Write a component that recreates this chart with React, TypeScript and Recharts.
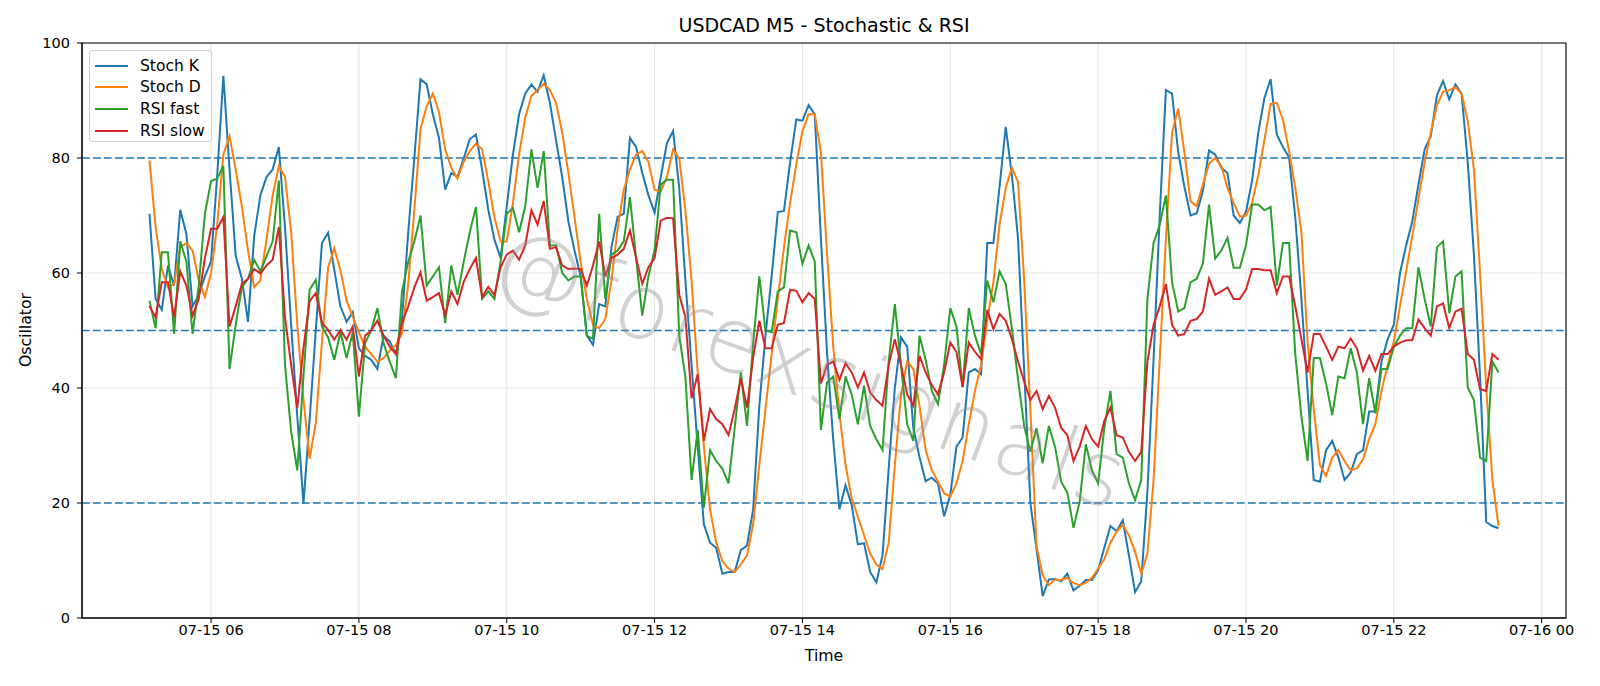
import React from 'react';
import { LineChart, Line, XAxis, YAxis, CartesianGrid, ReferenceLine, ReferenceArea } from 'recharts';

// bars are M5, first bar at 07-15 05:10 (minutes since 07-15 00:00)
const START_MIN = 310;
const STEP_MIN = 5;

const stochK = [
  70.3, 55.5, 53.6, 61.3, 57.8, 71, 66.8, 54.2, 56.2, 59.4,
  62, 77, 94.3, 78, 63, 59, 51.5, 66.4, 73.5, 76.7,
  78, 81.9, 68, 51, 35, 19.9, 34.5, 50, 65.2, 67,
  60.6, 54.2, 51.5, 53.2, 46.9, 45.6, 44.9, 43.3, 49.1, 48.1,
  45.9, 52, 67, 80, 93.7, 92.8, 87.6, 83.5, 74.5, 77.4,
  76.7, 79.9, 83.3, 84.1, 78, 71, 65.8, 62.6, 71.6, 80.6,
  87.6, 91.2, 92.8, 91.5, 94.4, 89.6, 83.1, 76.7, 69, 63.9,
  59.4, 49.1, 47.5, 54.6, 54.2, 64.5, 69.8, 70.3, 83.5, 81.9,
  77.4, 73.5, 70.5, 76.7, 82.6, 84.7, 74.8, 58.7, 44, 29.8,
  16.3, 13.1, 12.2, 7.7, 8, 8, 11.8, 12.6, 18.9, 36.9,
  49.1, 59.4, 70.6, 70.8, 79.3, 86.7, 86.5, 89.2, 87.6, 66,
  46, 31, 18.9, 23.1, 19.6, 12.8, 13, 8, 6.2, 10.9,
  26, 40, 48.8, 47.2, 33, 28, 23.8, 24.4, 23.4, 17.7,
  21.4, 29.8, 31.4, 42.7, 43.3, 42.4, 65.2, 65.2, 75, 85.4,
  77, 66, 43, 20, 12, 3.8, 6.7, 6.8, 6.4, 7.7,
  4.8, 5.6, 6.6, 6.6, 8.3, 12.2, 16, 15.1, 17, 10.9,
  4.5, 6.4, 22, 45, 70, 91.8, 91.2, 81, 75, 70,
  70.4, 74.2, 81.3, 80.6, 78.3, 77.4, 70, 68.7, 70.6, 76.1,
  84.4, 90.5, 93.7, 84.1, 81.9, 80.1, 69.7, 55.5, 39.5, 24,
  23.7, 29.2, 30.8, 27.9, 24, 25.3, 28.5, 29.2, 35.9, 35.9,
  44.6, 48.5, 51, 60, 64.8, 69, 75.4, 81.5, 83.8, 90.9,
  93.4, 90.2, 92.8, 91.2, 79.3, 63.2, 42, 16.7, 16, 15.6,
];

const stochD = [
  79.6, 68, 60.7, 57.5, 58.1, 64.5, 65.2, 63.9, 58.7, 55.8,
  60, 68.4, 80.6, 83.8, 78, 71.6, 63.9, 57.5, 58.7, 65.8,
  73.5, 78.6, 76.7, 67.1, 51, 38, 27.7, 33.9, 48, 61,
  64.3, 60.5, 55.2, 52.4, 49.7, 47.2, 45.9, 44.6, 45.2, 46.5,
  47.5, 49.5, 58, 71, 85, 89, 91.2, 88, 81.5, 78.3,
  76.4, 79.3, 81.2, 82.5, 81.5, 76, 69.7, 65.5, 65.5, 72.2,
  80.6, 87, 90.8, 91.8, 92.9, 91.8, 89.6, 84.4, 77.4, 69.7,
  61.9, 55.5, 51, 50.4, 52, 58.7, 67.7, 74.5, 78, 80.6,
  81.2, 79.3, 74.5, 74.2, 76.7, 81.5, 79.9, 70.9, 58.7, 42.7,
  29.8, 18.9, 13.1, 9.9, 8.6, 8, 9.3, 10.9, 16.3, 26.6,
  36.3, 45.9, 55.5, 64.5, 72.2, 78.9, 84.7, 87.6, 87.6, 81,
  63.2, 47.2, 35.6, 26.6, 20.8, 17.6, 14.4, 11.2, 9.3, 8.5,
  13.1, 26.6, 38.8, 44.6, 43.3, 36.9, 29.2, 25.7, 23.7, 21.7,
  21.1, 23.4, 27.3, 33.7, 39.5, 44, 51.7, 58.4, 68.4, 74.8,
  78.3, 75.8, 58.7, 36.3, 12.5, 7.4, 5.7, 6.7, 6.6, 7,
  6.1, 5.7, 6.1, 7, 8.6, 10.2, 13.1, 15, 16.2, 14.4,
  11.5, 7.7, 11.2, 24, 45, 66, 84.4, 88.6, 81, 72.5,
  71.6, 75.4, 79, 80, 78.6, 74.8, 72.2, 69.8, 70, 72.2,
  77, 83.2, 89.4, 89.6, 86.7, 81.2, 74.8, 67.1, 48, 36.3,
  26.6, 24.7, 27.9, 29.2, 27.3, 25.7, 26, 27.6, 31.1, 33.7,
  39.5, 44, 48.1, 54.2, 60.3, 66.4, 72.9, 79.3, 84.4, 89.2,
  91.5, 91.8, 92.3, 91.2, 86.4, 78, 60, 40, 24, 16,
];

const rsiFast = [
  55.2, 50.4, 63.6, 63.6, 49.4, 65.5, 62, 49.4, 57.8, 70.3,
  76, 76.4, 78.6, 43.3, 51, 57.5, 59, 62.3, 60.3, 62.9,
  65.5, 76.1, 44, 32.4, 25.7, 42, 57.1, 58.8, 50.7, 48.8,
  44.9, 49.7, 45.2, 49.7, 35, 47.8, 50, 53.9, 47.8, 44.6,
  41.7, 56.8, 61.9, 65.5, 70, 57.8, 59.4, 61, 51.3, 61.3,
  56.2, 61.9, 67.1, 71.5, 55.5, 56.8, 55.5, 62, 70.3, 71.3,
  67.1, 71.6, 81.5, 74.8, 81.2, 64.8, 64.8, 60, 58.7, 59.4,
  59.4, 49.1, 48.5, 70.3, 55.5, 63.2, 63.9, 65.5, 73.2, 62.6,
  52.6, 59.4, 64, 75.4, 76.2, 76.2, 49.1, 42, 24, 32.7,
  19.2, 29.2, 27.3, 26, 23.4, 33, 42.7, 33.4, 47.8, 59.4,
  50, 49.7, 56.8, 57.5, 67.4, 67.1, 61.6, 64.8, 62, 32.7,
  41, 42, 34.6, 42, 38.8, 33.7, 40.4, 33.4, 31.1, 29.2,
  44.6, 54.6, 44, 33.7, 30.8, 49.1, 44.9, 39.5, 37.2, 44,
  53.9, 50.7, 40.1, 53.9, 49.1, 45.9, 58.7, 54.9, 60.3, 58.1,
  50.4, 41.4, 33.4, 28.9, 33, 26.9, 33.4, 29.8, 23.7, 21.8,
  15.7, 20.2, 30.2, 25.7, 23.4, 33, 39.5, 28.5, 27.9, 23.4,
  20.5, 24, 55.5, 65.2, 68.4, 73.5, 58.4, 53.3, 53.9, 58.4,
  59, 61.6, 71.9, 62.5, 63.9, 66.1, 60.9, 60.9, 64.8, 71.9,
  71.9, 70.9, 71.5, 57.8, 65.2, 65.2, 45.9, 35, 27.3, 45.2,
  45.2, 40.8, 35.3, 42, 41.7, 46.9, 42.7, 33.7, 41.7, 35.6,
  43.3, 43.3, 47.2, 49.1, 50.4, 50.4, 61, 55.5, 50.7, 64.5,
  65.5, 53, 59.4, 60.3, 40.1, 37.9, 27.9, 27.3, 44.6, 42.7,
];

const rsiSlow = [
  54.2, 52.3, 58.4, 58.4, 52.3, 60.3, 57.8, 52.6, 55.5, 62.6,
  67.7, 67.7, 69.7, 50.7, 54.2, 58.1, 59, 60.7, 59.9, 61.3,
  62.3, 68, 52.3, 44, 36.5, 47, 55.1, 56.5, 51.3, 50.1,
  48.4, 50.1, 48.4, 50.7, 42, 49.1, 50, 51.7, 49.1, 47.2,
  45.9, 51.3, 54.2, 57.5, 60.1, 55.2, 55.8, 56.5, 52.6, 56.8,
  54.6, 58.4, 60.7, 62.6, 55.8, 57.6, 56.2, 61, 63.2, 63.9,
  62.3, 64.8, 70.9, 68.4, 72.5, 64.2, 64.5, 61.3, 60.7, 60.8,
  60.7, 57.8, 61.3, 65.5, 59.4, 62.6, 63.2, 64.2, 67.4, 62.6,
  58.1, 61, 62.6, 69.1, 69.6, 69.5, 56.2, 52.3, 38.2, 42.4,
  30.8, 36.3, 34.6, 33.7, 31.8, 36.3, 41.7, 36.6, 45.3, 51.7,
  46.9, 46.9, 51, 51.3, 57.1, 56.9, 54.9, 56.5, 55.5, 40.8,
  44, 44.6, 41.4, 44.3, 42.7, 40.1, 42.7, 39.2, 37.9, 36.9,
  44, 48.5, 44, 38.9, 36.9, 45.6, 42.7, 40.5, 38.9, 42.7,
  47.9, 46.3, 40.2, 47.9, 46.3, 45, 53.6, 50.2, 52.9, 51.7,
  48.5, 44.6, 41.1, 37.9, 39.5, 36.3, 38.6, 36.6, 33.1, 31.8,
  27.3, 29.8, 33.4, 31.1, 29.8, 34.3, 36.6, 31.8, 31.4, 28.9,
  27.3, 28.9, 44.6, 51, 54.2, 58.1, 51, 49.1, 49.4, 51.7,
  52, 53.3, 59, 56.2, 56.8, 57.5, 55.5, 55.5, 57.1, 60.7,
  60.7, 60.5, 60.5, 56.5, 59.4, 59.4, 54.2, 48.5, 42.7, 49.4,
  49.4, 47.2, 44.9, 47.2, 46.9, 48.6, 46.9, 43, 45.6, 43,
  45.9, 45.9, 47.2, 47.9, 48.3, 48.3, 51.9, 50.4, 49.1, 54.2,
  54.7, 50.4, 53.3, 53.8, 45.9, 44.9, 39.8, 39.5, 45.9, 44.9,
];

const hourTicks = [360, 480, 600, 720, 840, 960, 1080, 1200, 1320, 1440];
const hourTickLabels = ['07-15 06', '07-15 08', '07-15 10', '07-15 12', '07-15 14', '07-15 16', '07-15 18', '07-15 20', '07-15 22', '07-16 00'];
const yTicks = [0, 20, 40, 60, 80, 100];
const levels = [20, 50, 80];

const series = [
  { key: 'k', name: 'Stoch K', color: '#1f77b4' },
  { key: 'd', name: 'Stoch D', color: '#ff7f0e' },
  { key: 'rf', name: 'RSI fast', color: '#2ca02c' },
  { key: 'rs', name: 'RSI slow', color: '#d62728' },
];

const data = stochK.map((k, i) => ({
  t: START_MIN + i * STEP_MIN,
  k,
  d: stochD[i],
  rf: rsiFast[i],
  rs: rsiSlow[i],
}));

// matplotlib-like 5% x margins
const lastT = START_MIN + (stochK.length - 1) * STEP_MIN;
const pad = (lastT - START_MIN) * 0.05;
const xDomain = [START_MIN - pad, lastT + pad];

const FONT = '"DejaVu Sans", Verdana, sans-serif';
const tickStyle = { fill: '#000', fontSize: 14.5, fontFamily: FONT };

const App = () => {
  return (
    <div style={{ position: 'absolute', left: 0, top: 0, width: 1600, height: 686, background: '#fff', fontFamily: FONT }}>
      <LineChart width={1600} height={686} data={data} margin={{ top: 43, right: 34, left: 0, bottom: 0 }}>
        <CartesianGrid stroke="#e6e6e6" strokeWidth={1} />
        <XAxis
          dataKey="t"
          type="number"
          domain={xDomain}
          allowDataOverflow
          ticks={hourTicks}
          tickFormatter={(v: number) => hourTickLabels[hourTicks.indexOf(v)]}
          height={68}
          tick={tickStyle}
          tickSize={5}
          stroke="#000"
        />
        <YAxis
          domain={[0, 100]}
          ticks={yTicks}
          width={82}
          tick={tickStyle}
          tickSize={5}
          tickMargin={7}
          stroke="#000"
        />
        {levels.map((lv) => (
          <ReferenceLine key={lv} y={lv} stroke="#1f77b4" strokeWidth={1.5} strokeDasharray="7.7 3.3" />
        ))}
        {series.map((s) => (
          <Line
            key={s.key}
            type="linear"
            dataKey={s.key}
            name={s.name}
            stroke={s.color}
            strokeWidth={2}
            dot={false}
            isAnimationActive={false}
          />
        ))}
        <ReferenceArea x1={xDomain[0]} x2={xDomain[1]} y1={0} y2={100} fill="none" stroke="#000" strokeWidth={1.1} ifOverflow="visible" />
      </LineChart>

      {/* watermark */}
      <div
        style={{
          position: 'absolute',
          left: 812,
          top: 368,
          transform: 'translate(-50%, -50%) rotate(20deg)',
          fontSize: 90,
          letterSpacing: 3,
          fontFamily: FONT,
          fontWeight: 200,
          color: 'rgba(140,140,140,0.4)',
          whiteSpace: 'nowrap',
          pointerEvents: 'none',
        }}
      >
        @forexsignals
      </div>

      <div style={{ position: 'absolute', left: 0, width: 1648, top: 14, textAlign: 'center', fontSize: 19, color: '#000' }}>
        USDCAD M5 - Stochastic &amp; RSI
      </div>
      <div style={{ position: 'absolute', left: 0, width: 1648, top: 646, textAlign: 'center', fontSize: 15.7, color: '#000' }}>
        Time
      </div>
      <div
        style={{
          position: 'absolute',
          left: 25,
          top: 330,
          transform: 'translate(-50%, -50%) rotate(-90deg)',
          fontSize: 15.7,
          color: '#000',
          whiteSpace: 'nowrap',
        }}
      >
        Oscillator
      </div>

      {/* legend */}
      <div
        style={{
          position: 'absolute',
          left: 89,
          top: 50,
          width: 123,
          height: 92,
          boxSizing: 'border-box',
          border: '1px solid #d0d0d0',
          borderRadius: 3,
          background: 'rgba(255,255,255,0.8)',
        }}
      >
        {series.map((s, i) => (
          <div key={s.key} style={{ position: 'absolute', left: 0, top: 3.5 + i * 21.8, height: 22, display: 'flex', alignItems: 'center' }}>
            <div style={{ width: 33, height: 2, background: s.color, marginLeft: 5 }} />
            <span style={{ marginLeft: 12, fontSize: 15.5, color: '#000', whiteSpace: 'nowrap' }}>{s.name}</span>
          </div>
        ))}
      </div>
    </div>
  );
};

export default App;
